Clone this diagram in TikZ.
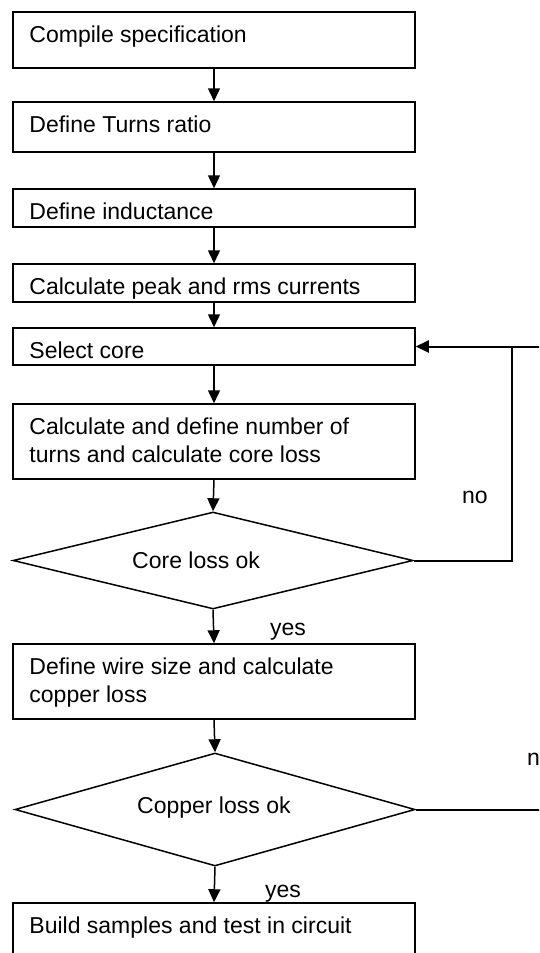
\documentclass[tikz,border=0pt]{standalone}
\usepackage{fontspec}
\setmainfont{Liberation Sans}
\usetikzlibrary{shapes.geometric,arrows.meta,calc}
\begin{document}
\begin{tikzpicture}[x=1pt,y=-1pt,
  box/.style={draw,line width=1.5pt,rectangle,minimum width=402pt,inner sep=0pt},
  dia/.style={draw,line width=1.5pt,diamond,aspect=4,minimum width=400pt,inner sep=0pt},
  txt/.style={inner sep=0pt,align=left,anchor=north west,font=\fontsize{23}{28}\selectfont},
  lbl/.style={inner sep=0pt,anchor=base west,font=\fontsize{23}{28}\selectfont},
  flow/.style={line width=1.5pt,-{Triangle[length=13pt,width=12pt]}},
  loopline/.style={line width=2pt}]
\useasboundingbox (0,0) rectangle (539,953);
\clip (0,0) rectangle (539,953);

% boxes
\node[box,minimum height=56pt] (b1) at (214,40) {};
\node[box,minimum height=50pt] (b2) at (214,127) {};
\node[box,minimum height=38pt] (b3) at (214,208) {};
\node[box,minimum height=38pt] (b4) at (214,283) {};
\node[box,minimum height=37pt] (b5) at (214,346.5) {};
\node[box,minimum height=75pt] (b6) at (214,441.5) {};
\node[dia,minimum height=97pt] (d1) at (213,560.5) {};
\node[box,minimum height=75pt] (b7) at (214,681.5) {};
\node[dia,minimum height=113pt] (d2) at (215,809.5) {};
\node[box,minimum height=60pt] (b8) at (214,933) {};

% texts
\node[txt] (t1) at ($(b1.north west)+(17,14.3)$) {Compile specification};
\node[txt] (t2) at ($(b2.north west)+(17,14.3)$) {Define Turns ratio};
\node[txt] (t3) at ($(b3.north west)+(17,14.3)$) {Define inductance};
\node[txt] (t4) at ($(b4.north west)+(17,14.3)$) {Calculate peak and rms currents};
\node[txt] (t5) at ($(b5.north west)+(17,14.3)$) {Select core};
\node[txt] (t6) at ($(b6.north west)+(17,14.3)$) {Calculate and define number of\\turns and calculate core loss};
\node[lbl] (t7) at (132,568) {Core loss ok};
\node[txt] (t8) at ($(b7.north west)+(17,14.3)$) {Define wire size and calculate\\copper loss};
\node[lbl] (t9) at (137,813) {Copper loss ok};
\node[txt] (t10) at ($(b8.north west)+(17,14.3)$) {Build samples and test in circuit};

% labels
\node[lbl] (yes1) at (270,635) {yes};
\node[lbl] (no1) at (462,503) {no};
\node[lbl] (yes2) at (265,897) {yes};
\node[lbl] (no2) at (527,765) {no};

% flow arrows
\draw[flow] (b1.south) -- (b2.north);
\draw[flow] (b2.south) -- (b3.north);
\draw[flow] (b3.south) -- (b4.north);
\draw[flow] (b4.south) -- (b5.north);
\draw[flow] (b5.south) -- (b6.north);
\draw[flow] (b6.south) -- (d1.north);
\draw[flow] (d1.south) -- (b7.north);
\draw[flow] (b7.south) -- (d2.north);
\draw[flow] (d2.south) -- (b8.north);

% loop back
\coordinate (c1) at (512,560.5);
\coordinate (c2) at (512,346.5);
\coordinate (c3) at (550,346.5);
\coordinate (c4) at (550,809.5);
\draw[loopline] (d1.east) -- (c1) -- (c2);
\draw[loopline,-{Triangle[length=13pt,width=12pt]}] (c3) -- (b5.east);
\draw[loopline] (d2.east) -- (c4);
\end{tikzpicture}
\end{document}
